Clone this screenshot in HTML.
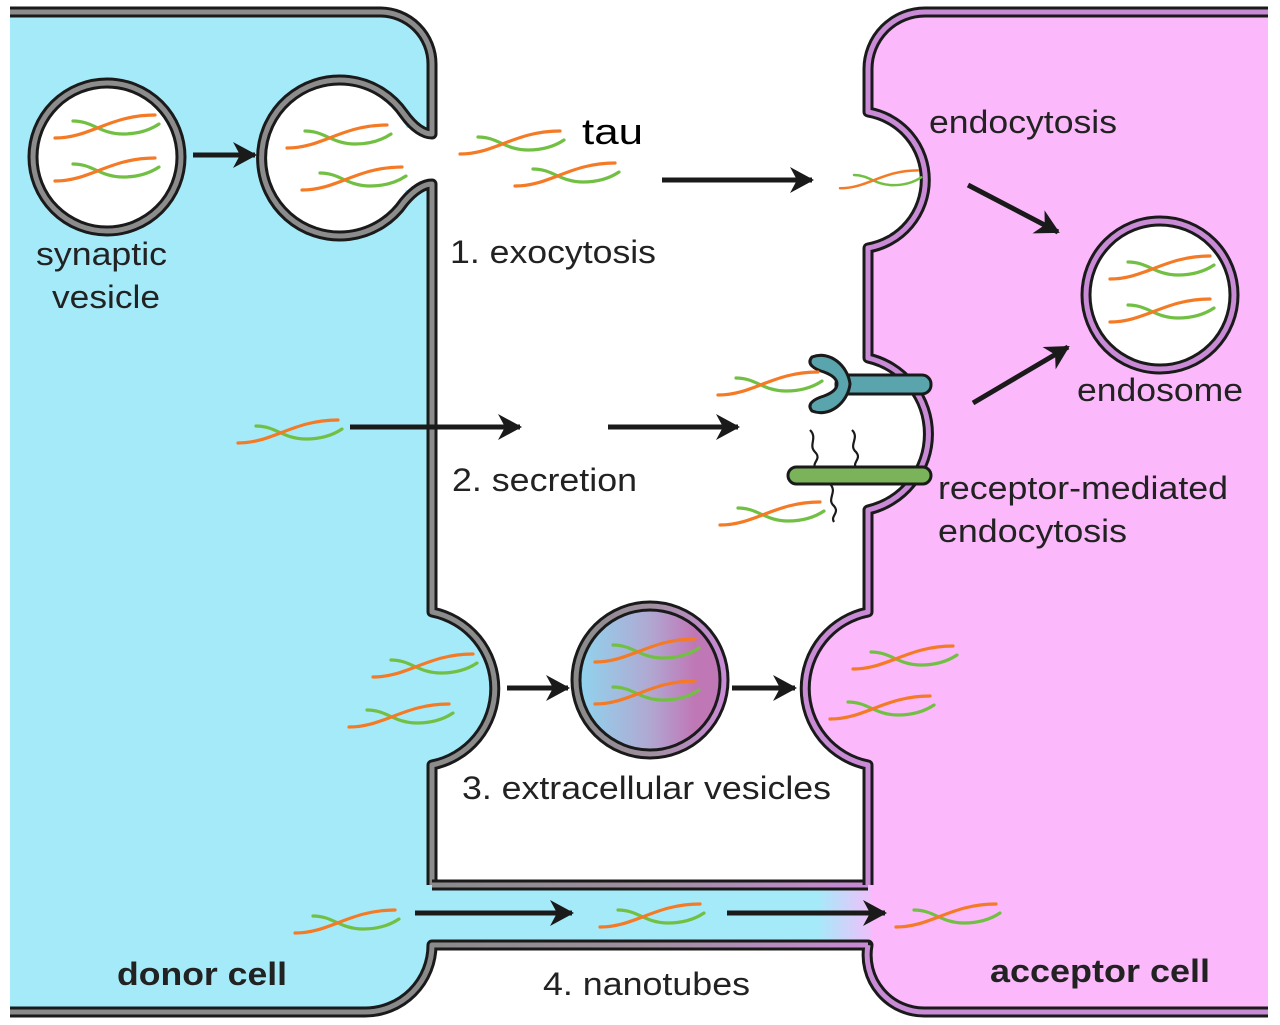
<!DOCTYPE html>
<html><head><meta charset="utf-8"><style>
html,body{margin:0;padding:0;background:#fff}
svg{display:block}
text{font-family:"Liberation Sans",sans-serif;fill:#222}
</style></head><body>
<svg width="1280" height="1025" viewBox="0 0 1280 1025">
<defs>
<g id="tau" fill="none" stroke-width="3.2" stroke-linecap="round">
<path d="M18,9 C38,9 45,22 68,22 C84,22 95,18 104,12" stroke="#72c043"/>
<path d="M0,26 C35,26 55,3 100,3" stroke="#f47a25"/>
</g>
<marker id="ah" markerUnits="userSpaceOnUse" markerWidth="30" markerHeight="30" refX="22" refY="13" orient="auto">
<path d="M0,0 L24,13 L0,26 L7,13 Z" fill="#1a1a1a"/>
</marker>
<linearGradient id="nt" gradientUnits="userSpaceOnUse" x1="430" y1="0" x2="880" y2="0">
<stop offset="0" stop-color="#a5eaf9"/><stop offset="0.86" stop-color="#a5eaf9"/><stop offset="1" stop-color="#fbb9fb"/>
</linearGradient>
<linearGradient id="ntl" gradientUnits="userSpaceOnUse" x1="430" y1="0" x2="870" y2="0">
<stop offset="0" stop-color="#8a8a8a"/><stop offset="0.5" stop-color="#a090a0"/><stop offset="1" stop-color="#c98ad6"/>
</linearGradient>
<linearGradient id="ev" x1="0" y1="0" x2="1" y2="0">
<stop offset="0" stop-color="#8ed6ef"/><stop offset="0.5" stop-color="#b0a8d2"/><stop offset="0.8" stop-color="#c077b6"/><stop offset="1" stop-color="#c077b6"/>
</linearGradient>
<linearGradient id="evr" x1="0" y1="0" x2="1" y2="0">
<stop offset="0" stop-color="#8a8a8a"/><stop offset="0.5" stop-color="#a090a0"/><stop offset="1" stop-color="#c98ad6"/>
</linearGradient>
</defs>

<path d="M10,12 H380 A52,52 0 0 1 432,64 V612 A78,78 0 0 1 432,765 V945 A67,67 0 0 1 365,1012 H10 Z" fill="#a5eaf9"/>
<path d="M1268,12 H925 A57,57 0 0 0 868,69 V112 A69,69 0 0 1 868,248 V358 A78,78 0 0 1 868,510 V612 A78,78 0 0 0 868,765 V945 A57,57 0 0 0 925,1012 H1268 Z" fill="#fbb9fb"/>
<rect x="428" y="885" width="444" height="60" fill="url(#nt)"/>
<circle cx="337" cy="158" r="76" fill="#fff"/>
<rect x="395" y="128" width="45" height="62" fill="#fff"/>

<g fill="none" stroke-linejoin="round">
<path d="M10,12 H380 A52,52 0 0 1 432,64 V134 C424,134 414,128 404,114 A78,78 0 1 0 404,202 C414,190 424,184 432,184 V612 A78,78 0 0 1 432,765 V885" stroke="#1a1a1a" stroke-width="11"/>
<path d="M10,12 H380 A52,52 0 0 1 432,64 V134 C424,134 414,128 404,114 A78,78 0 1 0 404,202 C414,190 424,184 432,184 V612 A78,78 0 0 1 432,765 V885" stroke="#8c8c8c" stroke-width="5"/>
<path d="M432,885 H868" stroke="#1a1a1a" stroke-width="11"/>
<path d="M432,885 H868" stroke="url(#ntl)" stroke-width="5"/>
<path d="M10,1012 H365 A67,67 0 0 0 432,945 H868 A57,57 0 0 0 925,1012 H1268" stroke="#1a1a1a" stroke-width="11"/>
<path d="M10,1012 H365 A67,67 0 0 0 432,945 H868" stroke="url(#ntl)" stroke-width="5"/>
<path d="M868,945 A57,57 0 0 0 925,1012 H1268" stroke="#c98ad6" stroke-width="5"/>
<path d="M1268,12 H925 A57,57 0 0 0 868,69 V112 A69,69 0 0 1 868,248 V358 A78,78 0 0 1 868,510 V612 A78,78 0 0 0 868,765 V885" stroke="#1a1a1a" stroke-width="11"/>
<path d="M1268,12 H925 A57,57 0 0 0 868,69 V112 A69,69 0 0 1 868,248 V358 A78,78 0 0 1 868,510 V612 A78,78 0 0 0 868,765 V885" stroke="#c98ad6" stroke-width="5"/>
</g>

<circle cx="107" cy="157" r="74" fill="#fff" stroke="#1a1a1a" stroke-width="11"/>
<circle cx="107" cy="157" r="74" fill="none" stroke="#8c8c8c" stroke-width="5"/>
<circle cx="1160" cy="295" r="74" fill="#fff" stroke="#1a1a1a" stroke-width="11"/>
<circle cx="1160" cy="295" r="74" fill="none" stroke="#c98ad6" stroke-width="5"/>
<circle cx="650" cy="680" r="74" fill="url(#ev)" stroke="#1a1a1a" stroke-width="11"/>
<circle cx="650" cy="680" r="74" fill="none" stroke="url(#evr)" stroke-width="5"/>

<rect x="836" y="375" width="95" height="19" rx="9" fill="#5aa5ad" stroke="#1a1a1a" stroke-width="3"/>
<path d="M812,357 C830,350 848,366 850,384 C848,402 830,418 812,411 C806,404 814,399 824,396 C832,393 837,389 837,384 C837,379 832,375 824,372 C814,369 806,364 812,357 Z" fill="#5aa5ad" stroke="#1a1a1a" stroke-width="3"/>
<g fill="none" stroke="#1a1a1a" stroke-width="2.2">
<path d="M810,430 C818,438 808,445 815,452 C822,459 812,462 815,468"/>
<path d="M852,430 C860,438 848,445 856,452 C862,459 852,462 856,468"/>
<path d="M830,484 C838,492 826,499 834,506 C840,513 830,516 834,522"/>
</g>
<rect x="788" y="467" width="143" height="17" rx="8.5" fill="#7bb35a" stroke="#1a1a1a" stroke-width="3"/>

<use href="#tau" x="55" y="112"/>
<use href="#tau" x="55" y="155"/>
<use href="#tau" x="287" y="122"/>
<use href="#tau" x="302" y="164"/>
<use href="#tau" x="460" y="128"/>
<use href="#tau" x="515" y="160"/>
<use href="#tau" transform="translate(840,168) scale(0.78)"/>
<use href="#tau" x="1110" y="253"/>
<use href="#tau" x="1110" y="296"/>
<use href="#tau" x="718" y="369"/>
<use href="#tau" x="720" y="499"/>
<use href="#tau" x="238" y="417"/>
<use href="#tau" x="373" y="651"/>
<use href="#tau" x="349" y="701"/>
<use href="#tau" x="595" y="636"/>
<use href="#tau" x="595" y="678"/>
<use href="#tau" x="853" y="643"/>
<use href="#tau" x="830" y="693"/>
<use href="#tau" x="295" y="907"/>
<use href="#tau" x="600" y="901"/>
<use href="#tau" x="896" y="901"/>

<g stroke="#1a1a1a" stroke-width="5" marker-end="url(#ah)">
<line x1="193" y1="155" x2="255" y2="155"/>
<line x1="662" y1="180" x2="812" y2="180"/>
<line x1="968" y1="185" x2="1058" y2="232"/>
<line x1="973" y1="403" x2="1068" y2="347"/>
<line x1="350" y1="427" x2="520" y2="427"/>
<line x1="608" y1="427" x2="738" y2="427"/>
<line x1="507" y1="688" x2="568" y2="688"/>
<line x1="732" y1="688" x2="795" y2="688"/>
<line x1="415" y1="913" x2="572" y2="913"/>
<line x1="727" y1="913" x2="885" y2="913"/>
</g>

<g font-size="32" lengthAdjust="spacingAndGlyphs">
<text x="36" y="265" textLength="131" lengthAdjust="spacingAndGlyphs">synaptic</text>
<text x="52" y="308" textLength="108" lengthAdjust="spacingAndGlyphs">vesicle</text>
<text x="582" y="144" font-size="36" style="fill:#000" textLength="61" lengthAdjust="spacingAndGlyphs">tau</text>
<text x="450" y="263" textLength="206" lengthAdjust="spacingAndGlyphs">1. exocytosis</text>
<text x="929" y="133" textLength="188" lengthAdjust="spacingAndGlyphs">endocytosis</text>
<text x="1077" y="401" textLength="166" lengthAdjust="spacingAndGlyphs">endosome</text>
<text x="452" y="491" textLength="185" lengthAdjust="spacingAndGlyphs">2. secretion</text>
<text x="938" y="499" textLength="290" lengthAdjust="spacingAndGlyphs">receptor-mediated</text>
<text x="938" y="542" textLength="189" lengthAdjust="spacingAndGlyphs">endocytosis</text>
<text x="462" y="799" textLength="369" lengthAdjust="spacingAndGlyphs">3. extracellular vesicles</text>
<text x="543" y="995" textLength="207" lengthAdjust="spacingAndGlyphs">4. nanotubes</text>
<text x="117" y="985" font-weight="bold" textLength="170" lengthAdjust="spacingAndGlyphs">donor cell</text>
<text x="990" y="982" font-weight="bold" textLength="220" lengthAdjust="spacingAndGlyphs">acceptor cell</text>
</g>
</svg>
</body></html>
